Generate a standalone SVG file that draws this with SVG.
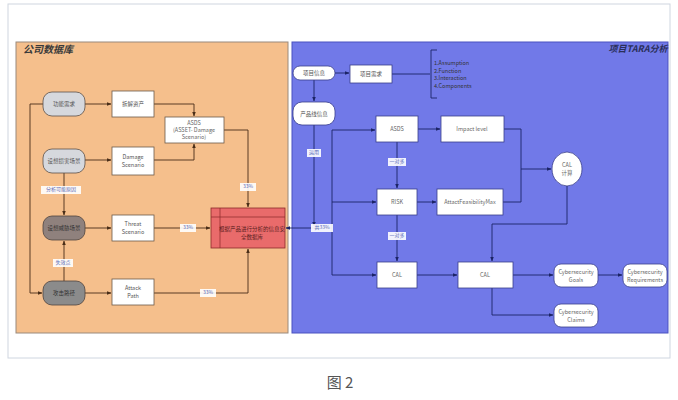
<svg xmlns="http://www.w3.org/2000/svg" width="678" height="400" viewBox="0 0 678 400">
<defs>
<marker id="ab" viewBox="0 0 10 10" refX="9" refY="5" markerWidth="5" markerHeight="5" orient="auto"><path d="M0,1 L10,5 L0,9 z" fill="#4a2e18"/></marker>
<marker id="an" viewBox="0 0 10 10" refX="9" refY="5" markerWidth="5" markerHeight="5" orient="auto"><path d="M0,1 L10,5 L0,9 z" fill="#1c2466"/></marker>
<style>
text{font-family:"Noto Sans CJK SC","Liberation Sans",sans-serif;text-anchor:middle;dominant-baseline:middle}
.t{font-size:5.5px;fill:#555}
.tw{font-size:5.5px;fill:#666}
.lab{font-size:5px;fill:#5a6bb8}
.cb{fill:none;stroke:#4a2e18;stroke-width:0.9;marker-end:url(#ab)}
.cn{fill:none;stroke:#1c2466;stroke-width:0.9;marker-end:url(#an)}
.ln{fill:none;stroke:#1c2466;stroke-width:0.9}
.lb{fill:none;stroke:#4a2e18;stroke-width:0.9}
.box{fill:#fff;stroke:#6b5a4a;stroke-width:0.8}
.bbox{fill:#fff;stroke:#3a3f8a;stroke-width:0.8}
.lg{fill:#d6d8dd;stroke:#5a524d;stroke-width:0.8}
.dg{fill:#8f817d;stroke:#4e4440;stroke-width:0.8}
.mg{fill:#8b8b8b;stroke:#4e4440;stroke-width:0.8}
.lbg{fill:#fff;opacity:0.9}
</style>
</defs>
<rect x="0" y="0" width="678" height="400" fill="#fff"/>
<rect x="8" y="4" width="662" height="354" fill="none" stroke="#cfd6e0" stroke-width="1"/>
<g id="panel-left">
<rect x="16" y="42" width="272" height="291" fill="#f5bf8c" stroke="#9a8a7c" stroke-width="1"/>
<text x="48" y="50" style="font-size:10px;font-weight:bold;font-style:italic;fill:#3a3a3a">公司数据库</text>
</g>
<g id="panel-right">
<rect x="292" y="42" width="376" height="291" fill="#7179e8" stroke="#4b52c0" stroke-width="1"/>
<text x="638" y="50" style="font-size:9px;font-weight:bold;font-style:italic;fill:#2a2f5a">项目TARA分析</text>
</g>
<g id="connectors">
<path class="cb" d="M85,104 H111"/>
<path class="cb" d="M85,160 H111"/>
<path class="cb" d="M85,228 H111"/>
<path class="cb" d="M85,293 H111"/>
<path class="cb" d="M43,104 H30 V293 H42"/>
<path class="cb" d="M64,173 V215"/>
<path class="cb" d="M64,281 V241"/>
<path class="cb" d="M154,104 H194 V116"/>
<path class="cb" d="M154,160 H194 V144"/>
<path class="cb" d="M224,130 H248 V207"/>
<path class="cb" d="M154,228 H210"/>
<path class="cb" d="M154,293 H248 V249"/>
<path class="cn" d="M332,228 H286"/>
<path class="cn" d="M314,125 V226"/>
<path class="cn" d="M314,80 V101"/>
<path class="cn" d="M335,73 H349"/>
<path class="ln" d="M392,74 H430"/>
<path class="ln" d="M437,50 H431 V98 H437"/>
<path class="cn" d="M332,130 V275 H376"/>
<path class="cn" d="M332,130 H375"/>
<path class="cn" d="M332,202 H376"/>
<path class="cn" d="M418,129 H440"/>
<path class="cn" d="M397,142 V188"/>
<path class="cn" d="M397,215 V261"/>
<path class="cn" d="M417,202 H436"/>
<path class="cn" d="M504,129 H521 V169 H551"/>
<path class="ln" d="M503,202 H521 V169"/>
<path class="cn" d="M567,186 V224 H492 V261"/>
<path class="cn" d="M417,275 H457"/>
<path class="cn" d="M513,275 H553"/>
<path class="cn" d="M598,275 H622"/>
<path class="cn" d="M492,288 V315 H553"/>
</g>
<g id="labels">
<rect class="lbg" x="41" y="186" width="40" height="8"/><text class="lab" x="61" y="190">分析可能原因</text>
<rect class="lbg" x="53" y="259" width="20" height="8"/><text class="lab" x="63" y="263">失效点</text>
<rect class="lbg" x="240" y="183" width="16" height="8"/><text class="lab" x="248" y="187">33%</text>
<rect class="lbg" x="180" y="224" width="16" height="8"/><text class="lab" x="188" y="228">33%</text>
<rect class="lbg" x="200" y="289" width="16" height="8"/><text class="lab" x="208" y="293">33%</text>
<rect class="lbg" x="311" y="224" width="22" height="8"/><text class="lab" x="322" y="228">共33%</text>
<rect class="lbg" x="307" y="149" width="14" height="8"/><text class="lab" x="314" y="153">运用</text>
<rect class="lbg" x="388" y="158" width="18" height="8"/><text class="lab" x="397" y="162">一对多</text>
<rect class="lbg" x="388" y="232" width="18" height="8"/><text class="lab" x="397" y="236">一对多</text>
</g>
<g id="n-gongneng"><rect class="lg" x="43" y="92" width="42" height="24" rx="9"/><text class="t" x="64" y="104">功能需求</text></g>
<g id="n-chaijie"><rect class="box" x="112" y="91" width="42" height="26"/><text class="t" x="133" y="104">拆解资产</text></g>
<g id="n-sunhai"><rect class="lg" x="43" y="149" width="42" height="24" rx="9"/><text class="t" x="64" y="161">设想损害场景</text></g>
<g id="n-damage"><rect class="box" x="112" y="147" width="42" height="28"/><text class="t" x="133" y="157">Damage</text><text class="t" x="133" y="165">Scenario</text></g>
<g id="n-weixie"><rect class="dg" x="43" y="216" width="42" height="24" rx="9"/><text class="t" x="64" y="228" style="fill:#333">设想威胁场景</text></g>
<g id="n-threat"><rect class="box" x="112" y="215" width="42" height="26"/><text class="t" x="133" y="224">Threat</text><text class="t" x="133" y="232">Scenario</text></g>
<g id="n-gongji"><rect class="mg" x="43" y="281" width="42" height="24" rx="9"/><text class="t" x="64" y="293" style="fill:#333">攻击路径</text></g>
<g id="n-attack"><rect class="box" x="112" y="279" width="42" height="26"/><text class="t" x="133" y="288">Attack</text><text class="t" x="133" y="296">Path</text></g>
<g id="n-asds-l"><rect class="box" x="165" y="117" width="59" height="26"/><text class="tw" x="194" y="123">ASDS</text><text class="tw" x="194" y="130">(ASSET- Damage</text><text class="tw" x="194" y="137">Scenario)</text></g>
<g id="n-db"><rect x="211" y="208" width="74" height="40" fill="#e96b6b" stroke="#8a2a2a" stroke-width="0.8"/><path d="M220,208 V248 M211,217 H285" stroke="#8a2a2a" stroke-width="0.7" fill="none"/><text class="t" x="252" y="229" style="fill:#5a1e1e">根据产品进行分析的信息安</text><text class="t" x="252" y="237" style="fill:#5a1e1e">全数据库</text></g>
<g id="n-xmxx"><rect class="bbox" x="293" y="66" width="42" height="14" rx="7"/><text class="t" x="314" y="73">项目信息</text></g>
<g id="n-xmxq"><rect class="bbox" x="350" y="65" width="42" height="18"/><text class="t" x="371" y="74">项目需求</text></g>
<g id="n-list"><text class="t" x="434" y="63" style="text-anchor:start;fill:#333">1.Assumption</text><text class="t" x="434" y="71" style="text-anchor:start;fill:#333">2.Function</text><text class="t" x="434" y="78" style="text-anchor:start;fill:#333">3.Interaction</text><text class="t" x="434" y="86" style="text-anchor:start;fill:#333">4.Components</text></g>
<g id="n-cpx"><rect class="bbox" x="293" y="102" width="42" height="23" rx="9"/><text class="t" x="314" y="114">产品线信息</text></g>
<g id="n-asds-r"><rect class="bbox" x="376" y="116" width="42" height="26"/><text class="tw" x="397" y="129">ASDS</text></g>
<g id="n-impact"><rect class="bbox" x="441" y="116" width="63" height="26"/><text class="tw" x="472" y="129">Impact level</text></g>
<g id="n-calc"><ellipse cx="567" cy="169" rx="15" ry="17" fill="#fff" stroke="#3a3f8a" stroke-width="0.8"/><text class="tw" x="567" y="165">CAL</text><text class="tw" x="567" y="173">计算</text></g>
<g id="n-risk"><rect class="bbox" x="377" y="189" width="40" height="26"/><text class="tw" x="397" y="202">RISK</text></g>
<g id="n-afm"><rect class="bbox" x="437" y="189" width="66" height="26"/><text class="tw" x="470" y="202">AttactFeasibilityMax</text></g>
<g id="n-cal1"><rect class="bbox" x="377" y="262" width="40" height="26"/><text class="tw" x="397" y="275">CAL</text></g>
<g id="n-cal2"><rect class="bbox" x="458" y="262" width="55" height="26"/><text class="tw" x="485" y="275">CAL</text></g>
<g id="n-goals"><rect class="bbox" x="554" y="264" width="44" height="23" rx="7"/><text class="tw" x="576" y="272">Cybersecurity</text><text class="tw" x="576" y="280">Goals</text></g>
<g id="n-req"><rect class="bbox" x="623" y="264" width="44" height="23" rx="7"/><text class="tw" x="645" y="272">Cybersecurity</text><text class="tw" x="645" y="280">Requirements</text></g>
<g id="n-claims"><rect class="bbox" x="554" y="304" width="44" height="23" rx="7"/><text class="tw" x="576" y="312">Cybersecurity</text><text class="tw" x="576" y="320">Claims</text></g>
<text x="340" y="384" style="font-family:'Noto Sans CJK SC','Liberation Serif',serif;font-size:15px;fill:#555">图 2</text>
</svg>
